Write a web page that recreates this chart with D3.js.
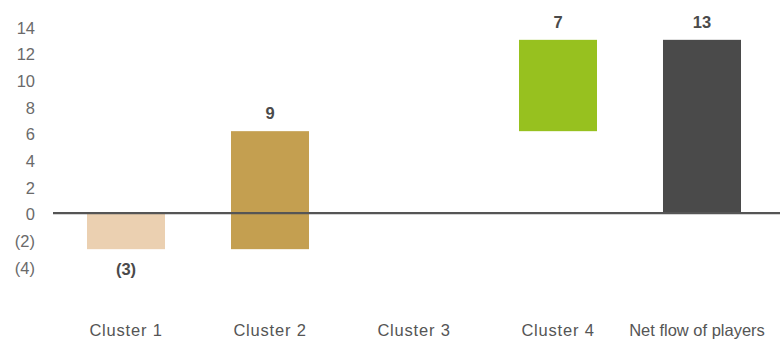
<!DOCTYPE html>
<html><head><meta charset="utf-8">
<script src="https://cdn.jsdelivr.net/npm/d3@7"></script>
<style>body{margin:0;background:#fff}svg{display:block}</style>
</head><body>
<script>
const categories = ["Cluster 1","Cluster 2","Cluster 3","Cluster 4","Net flow of players"];
const values = [-2.7, 8.85, 0, 6.85, 13.0];
const labels = ["(3)","9","","7","13"];
const isTotal = [false,false,false,false,true];
const colors = ["#ebd0b1","#c49f50","#97c11f","#97c11f","#4a4a4a"];
const yTicks = [-4,-2,0,2,4,6,8,10,12,14];

const W=780,H=341;
const svg=d3.select("body").append("svg").attr("width",W).attr("height",H);
const font="'Liberation Sans', Arial, sans-serif";

const x=d3.scaleBand().domain(categories).range([54,774]).paddingInner(0.4583).paddingOuter(0.2292);
const y=d3.scaleLinear().domain([-4,14]).range([266.5,26.5]);

let run=0;
const segs=categories.map((c,i)=>{
  let s,e;
  if(isTotal[i]){s=0;e=values[i];}
  else{s=run;e=run+values[i];run=e;}
  return {c,s,e,v:values[i],label:labels[i],color:colors[i]};
});

const yAxis=d3.axisLeft(y).tickValues(yTicks).tickSize(0).tickPadding(0)
  .tickFormat(d=>d<0?`(${-d})`:`${d}`);
const ga=svg.append("g").attr("transform","translate(35,0)").call(yAxis);
ga.select(".domain").remove();
ga.selectAll("text").attr("font-family",font).attr("font-size",16.5).attr("fill","#6a6a6a").attr("dy","0.4em");

svg.selectAll("rect.bar").data(segs.filter(d=>d.v!==0)).join("rect")
  .attr("x",d=>x(d.c)).attr("width",x.bandwidth())
  .attr("y",d=>y(Math.max(d.s,d.e))).attr("height",d=>Math.abs(y(d.s)-y(d.e)))
  .attr("fill",d=>d.color);

svg.append("line").attr("x1",53).attr("x2",780).attr("y1",y(0)).attr("y2",y(0))
  .attr("stroke","#555").attr("stroke-width",2.2);

svg.selectAll("text.val").data(segs.filter(d=>d.label)).join("text")
  .attr("x",d=>x(d.c)+x.bandwidth()/2)
  .attr("y",d=>d.v<0? y(Math.min(d.s,d.e))+26 : y(Math.max(d.s,d.e))-12)
  .attr("text-anchor","middle").attr("font-family",font).attr("font-weight","bold")
  .attr("font-size",16.5).attr("fill","#4a4a4a").text(d=>d.label);

const xAxis=d3.axisBottom(x).tickSize(0).tickPadding(0);
const gx=svg.append("g").attr("transform","translate(0,336)").call(xAxis);
gx.select(".domain").remove();
gx.selectAll("text").attr("font-family",font).attr("font-size",16.5).attr("fill","#555").attr("dy","0").attr("y",0)
  .attr("letter-spacing",d=>d.startsWith("Cluster")?"0.8px":"0px")
  .attr("x",d=>d.startsWith("Cluster")?0:-5);
</script>
</body></html>
